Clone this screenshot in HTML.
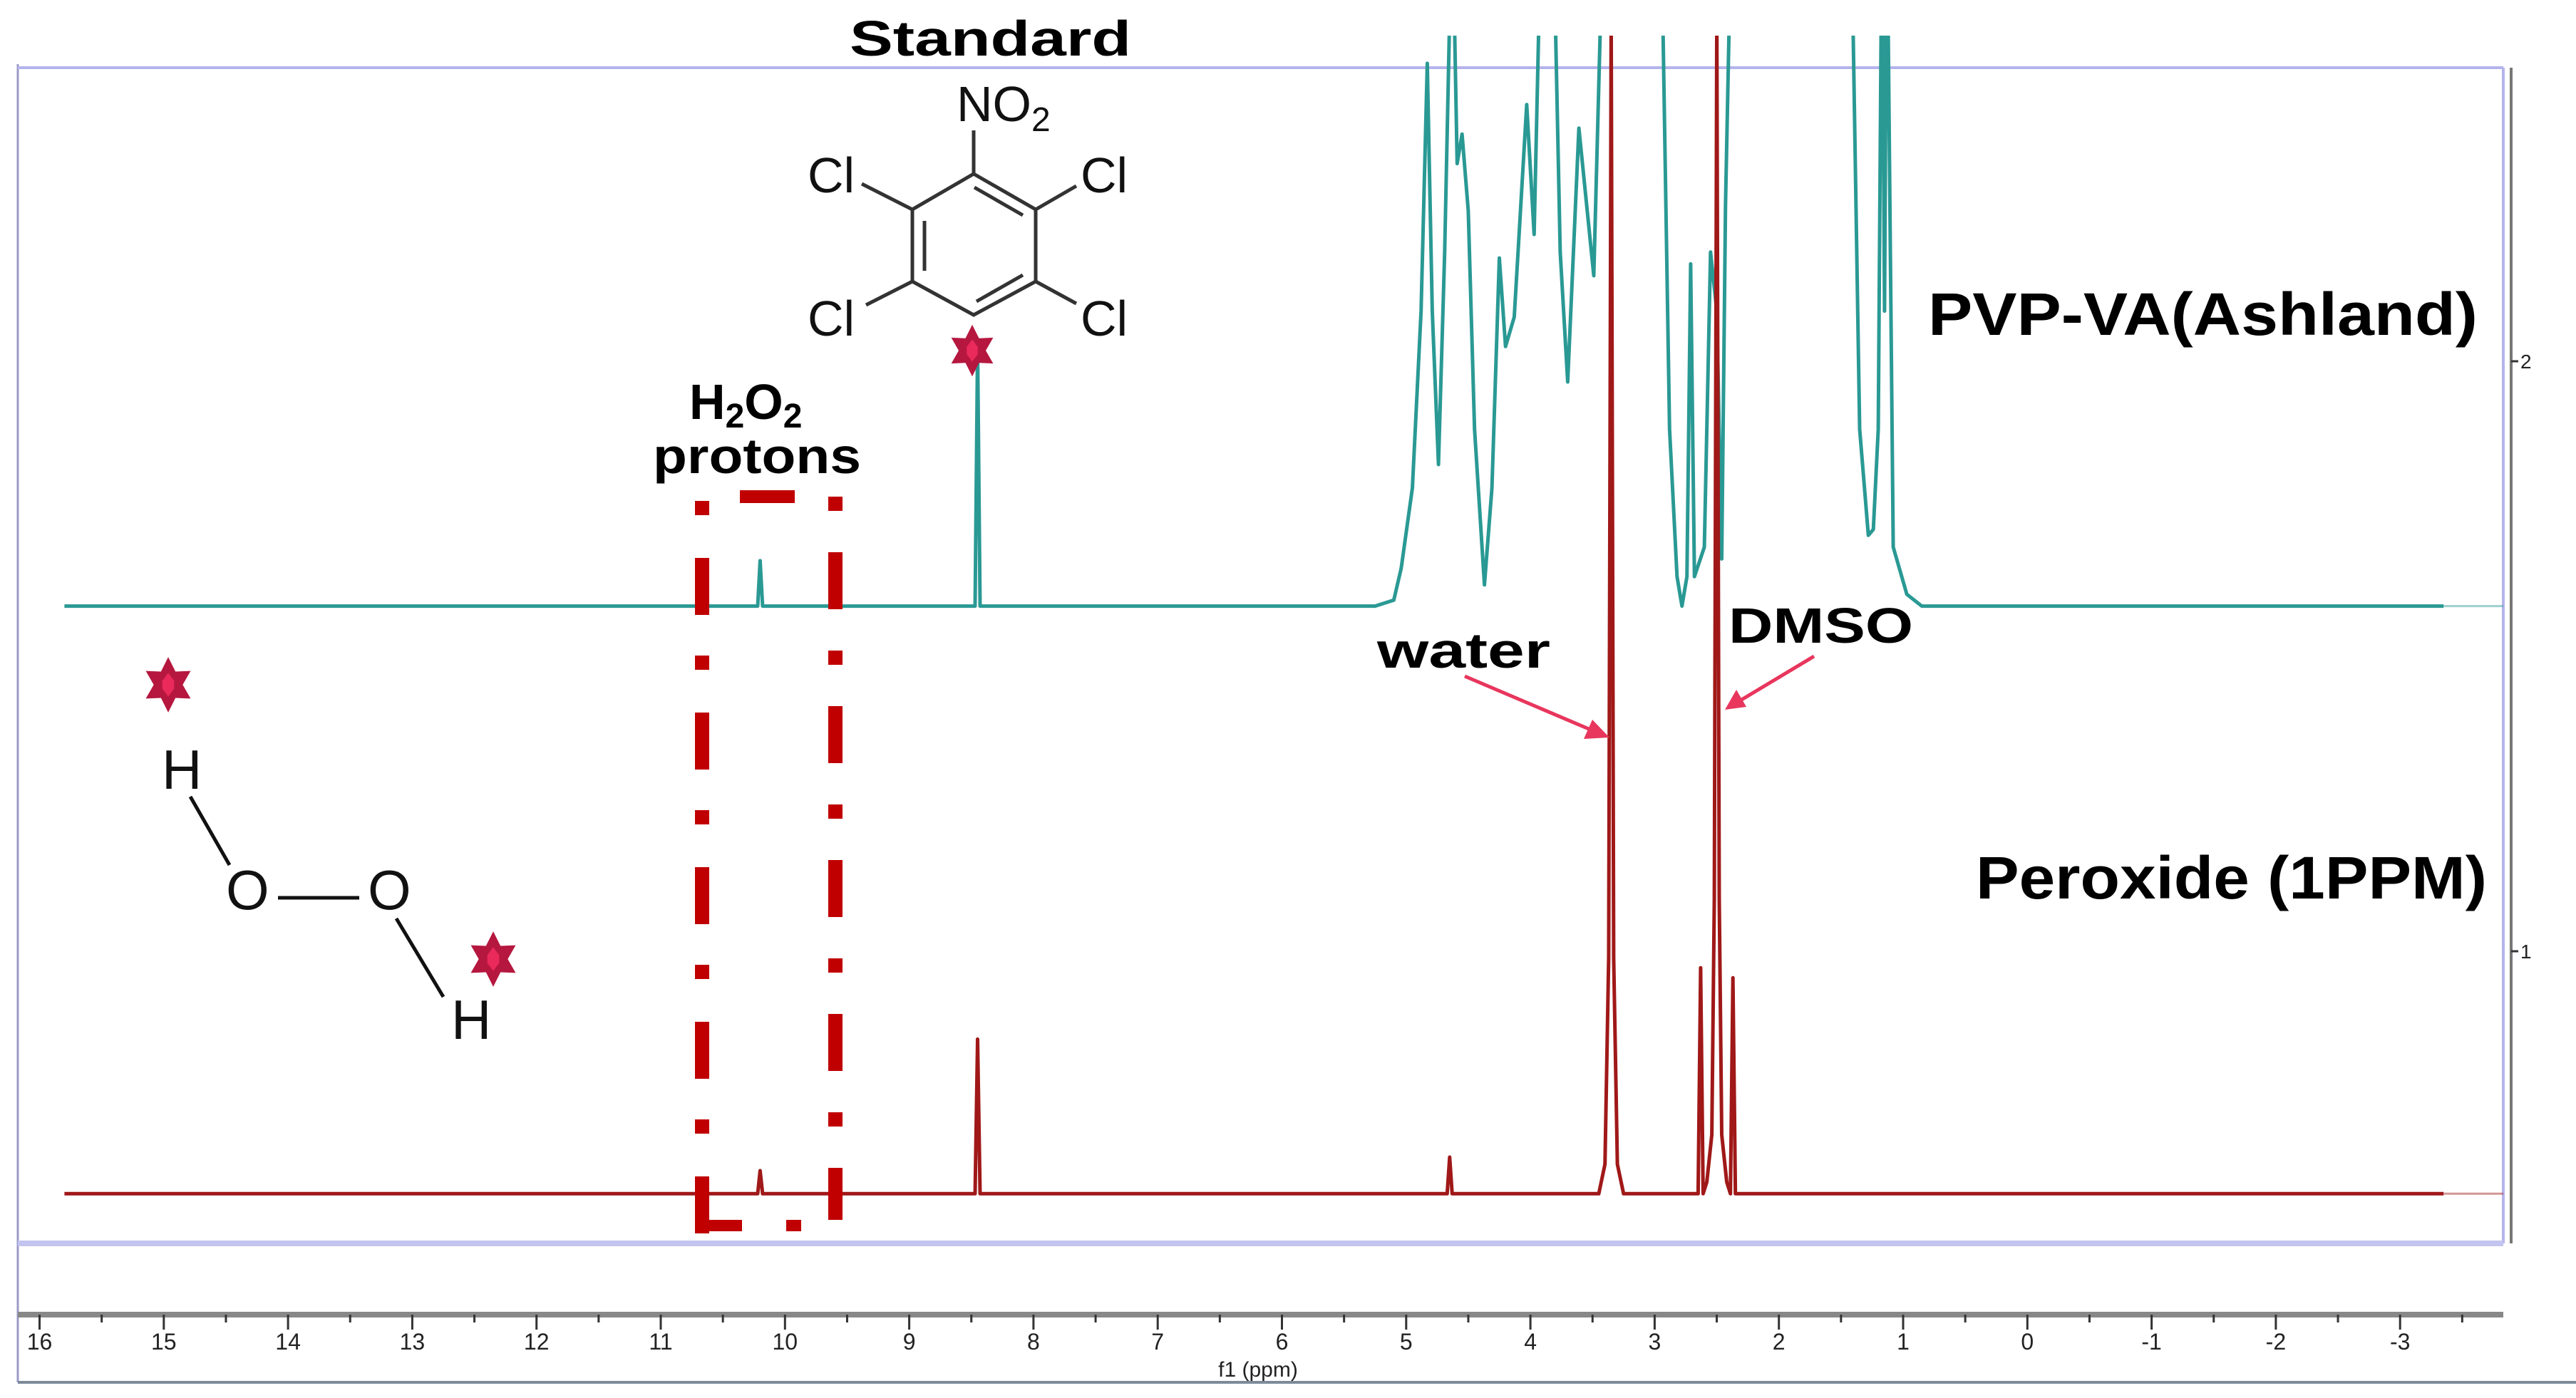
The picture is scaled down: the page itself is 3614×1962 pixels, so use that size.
<!DOCTYPE html>
<html><head><meta charset="utf-8"><style>
html,body{margin:0;padding:0;background:#fff;}
svg{display:block;}
text{font-family:"Liberation Sans",sans-serif;}
</style></head><body>
<svg id="chart" width="3614" height="1962" viewBox="0 0 3614 1962" xmlns="http://www.w3.org/2000/svg">
<defs>
<clipPath id="plotclip"><rect x="25" y="50" width="3487" height="1695"/></clipPath>
<symbol id="star" viewBox="-40 -44 80 88">
<polygon points="0,-42 11,-20 34,-21 22,0 34,21 11,20 0,42 -11,20 -34,21 -22,0 -34,-21 -11,-20" fill="#b5173f"/>
<polygon points="0,-18 9,-6 9,6 0,18 -9,6 -9,-6" fill="#ea2a5a"/>
</symbol>
</defs>
<rect width="3614" height="1962" fill="#fff"/>
<line x1="25" y1="90" x2="25" y2="1940" stroke="#9a9ac8" stroke-width="3"/>
<line x1="25" y1="95" x2="3512" y2="95" stroke="#b4b4ec" stroke-width="4"/>
<line x1="3512" y1="95" x2="3512" y2="1745" stroke="#b4b4ec" stroke-width="4"/>
<line x1="25" y1="1745" x2="3512" y2="1745" stroke="#c4c4f0" stroke-width="8"/>
<line x1="3523" y1="95" x2="3523" y2="1745" stroke="#777" stroke-width="4"/>
<line x1="25" y1="1940" x2="3614" y2="1940" stroke="#7d8a9a" stroke-width="4"/>
<g id="xaxis"></g>
<g id="yaxis"></g>
<g id="traces" clip-path="url(#plotclip)"></g>

<text x="1192" y="78" font-size="70" font-weight="bold" textLength="395" lengthAdjust="spacingAndGlyphs">Standard</text>
<g stroke="#333" stroke-width="5" fill="none">
<polygon points="1366,244 1453,294 1453,395 1366,442 1280,395 1280,294"/>
<line x1="1367" y1="263" x2="1435" y2="302"/>
<line x1="1297" y1="310" x2="1297" y2="380"/>
<line x1="1435" y1="386" x2="1370" y2="423"/>
<line x1="1366" y1="244" x2="1366" y2="183"/>
<line x1="1280" y1="294" x2="1209" y2="258"/>
<line x1="1453" y1="294" x2="1510" y2="261"/>
<line x1="1280" y1="395" x2="1215" y2="428"/>
<line x1="1453" y1="395" x2="1510" y2="426"/>
</g>
<g font-size="70" fill="#111">
<text x="1342" y="170">NO<tspan font-size="48" dy="14">2</tspan></text>
<text x="1133" y="270">Cl</text><text x="1516" y="270">Cl</text>
<text x="1133" y="471">Cl</text><text x="1516" y="471">Cl</text>
</g>
<use href="#star" x="1329" y="454" width="70" height="76"/>

<text x="967" y="588" font-size="70" font-weight="bold">H<tspan font-size="48" dy="12">2</tspan><tspan dy="-12">O</tspan><tspan font-size="48" dy="12">2</tspan></text>
<text x="916" y="664" font-size="70" font-weight="bold" textLength="292" lengthAdjust="spacingAndGlyphs">protons</text>
<g stroke="#c00000" stroke-width="20" fill="none">
<line x1="985" y1="703" x2="985" y2="1740" stroke-dasharray="20 60 80 57"/>
<line x1="1172" y1="697" x2="1172" y2="1712" stroke-dasharray="20 58 80 58"/>
<line x1="1038" y1="697" x2="1115" y2="697" stroke-width="18"/>
<line x1="976" y1="1720" x2="1041" y2="1720" stroke-width="16"/>
<line x1="1103" y1="1720" x2="1124" y2="1720" stroke-width="16"/>
</g>

<g>
<g font-size="78" fill="#111"><text x="227" y="1107">H</text><text x="317" y="1276">O</text><text x="516" y="1276">O</text><text x="633" y="1458">H</text></g>
<g stroke="#111" stroke-width="5"><line x1="267" y1="1118" x2="322" y2="1214"/><line x1="390" y1="1260" x2="504" y2="1260"/><line x1="556" y1="1289" x2="622" y2="1399"/></g>
</g>
<use href="#star" x="199" y="920" width="74" height="82"/>
<use href="#star" x="655" y="1305" width="74" height="82"/>

<text x="1932" y="937" font-size="70" font-weight="bold" textLength="243" lengthAdjust="spacingAndGlyphs">water</text>
<text x="2425" y="902" font-size="70" font-weight="bold" textLength="259" lengthAdjust="spacingAndGlyphs">DMSO</text>
<g><line x1="2055" y1="949" x2="2236" y2="1026" stroke="#e8365d" stroke-width="5"/><polygon points="2258,1035 2222,1037 2234,1010" fill="#e8365d"/></g>
<g><line x1="2545" y1="921" x2="2440" y2="984" stroke="#e8365d" stroke-width="5"/><polygon points="2420,996 2436,968 2450,992" fill="#e8365d"/></g>
<text x="2705" y="470" font-size="84" font-weight="bold" textLength="771" lengthAdjust="spacingAndGlyphs">PVP-VA(Ashland)</text>
<text x="2772" y="1261" font-size="84" font-weight="bold" textLength="717" lengthAdjust="spacingAndGlyphs">Peroxide (1PPM)</text>
</svg>
<script>
const xTicks = [16,15,14,13,12,11,10,9,8,7,6,5,4,3,2,1,0,-1,-2,-3];
const yTicks = [1,2];
const topPpm = [15.8,10.22,10.2,10.18,8.47,8.45,8.43,5.25,5.1,5.04,4.95,4.88,4.83,4.79,4.74,4.69,4.63,4.59,4.55,4.5,4.45,4.37,4.31,4.25,4.2,4.13,4.03,3.97,3.91,3.82,3.76,3.7,3.61,3.49,3.41,2.95,2.88,2.82,2.78,2.74,2.71,2.68,2.6,2.55,2.5,2.46,2.43,2.38,1.42,1.35,1.28,1.24,1.2,1.17,1.15,1.13,1.08,0.97,0.85,-3.35];
const topVal = [0,0,0.077,0,0,0.44,0,0,0.01,0.064,0.2,0.5,0.92,0.5,0.24,0.6,1.2,0.75,0.8,0.67,0.3,0.036,0.2,0.59,0.44,0.49,0.85,0.63,1.2,1.2,0.6,0.38,0.81,0.56,1.2,1.2,0.3,0.05,0,0.05,0.58,0.05,0.1,0.6,0.5,0.08,0.68,1.2,1.2,0.3,0.12,0.13,0.3,1.2,0.5,1.2,0.1,0.02,0,0];
const botPpm = [15.8,10.22,10.2,10.18,8.47,8.45,8.43,4.67,4.65,4.63,3.45,3.4,3.37,3.35,3.33,3.3,3.25,2.65,2.63,2.61,2.58,2.54,2.52,2.5,2.48,2.46,2.42,2.39,2.37,2.35,-3.35];
const botVal = [0,0,0.039,0,0,0.262,0,0,0.062,0,0,0.05,0.4,2.0,0.4,0.05,0,0,0.383,0,0.02,0.1,0.5,2.0,0.5,0.1,0.02,0,0.366,0,0];
const topOffset = 1.585, botOffset = 0.589;
const xs = p => 55.5 + (16 - p) * 174.3;
const ys = v => 1335 - (v - 1) * 828;
const NS = "http://www.w3.org/2000/svg";
function mk(tag, attrs, parent){const e=document.createElementNS(NS,tag);for(const k in attrs)e.setAttribute(k,attrs[k]);parent.appendChild(e);return e;}
const xa = document.getElementById('xaxis');
let axl = mk('line',{x1:25,y1:1845,x2:3512,y2:1845,stroke:'#888','stroke-width':8},xa);


for(let i=0;i<xTicks.length;i++){
  const t=xTicks[i];
  let tk=mk('line',{x1:xs(t),y1:1845,x2:xs(t),y2:1866,stroke:'#333','stroke-width':3},xa);
  
  
  let mt=mk('line',{x1:xs(t-0.5),y1:1845,x2:xs(t-0.5),y2:1856,stroke:'#333','stroke-width':3},xa);
  
  
  let lb=mk('text',{x:xs(t),y:1894,'font-size':32,'text-anchor':'middle',fill:'#222'},xa);
  lb.textContent=String(t);
  
  
}
let xt=mk('text',{x:1765,y:1932,'font-size':30,'text-anchor':'middle',fill:'#222'},xa);
xt.textContent='f1 (ppm)';


const ya=document.getElementById('yaxis');
for(const t of yTicks){
  let tk=mk('line',{x1:3523,y1:ys(t),x2:3533,y2:ys(t),stroke:'#333','stroke-width':3},ya);
  
  
  let lb=mk('text',{x:3536,y:ys(t)+10,'font-size':28,fill:'#222'},ya);
  lb.textContent=String(t);
  
  
}
const tr=document.getElementById('traces');
function trace(ppm,val,off,color,name){
  let d='';
  for(let i=0;i<ppm.length;i++){d+=(i?'L':'M')+xs(ppm[i]).toFixed(1)+','+ys(val[i]+off).toFixed(1);}
  let ext=mk('line',{x1:xs(ppm[ppm.length-1]),y1:ys(off),x2:3512,y2:ys(off),stroke:color,'stroke-width':3,opacity:0.45},tr);
  
  
  let p=mk('path',{d:d,fill:'none',stroke:color,'stroke-width':5,'stroke-linejoin':'round'},tr);
  
  
}
trace(topPpm,topVal,topOffset,'#2a9994','pvp-va-spectrum');
trace(botPpm,botVal,botOffset,'#a01818','peroxide-spectrum');
</script>
</body></html>
